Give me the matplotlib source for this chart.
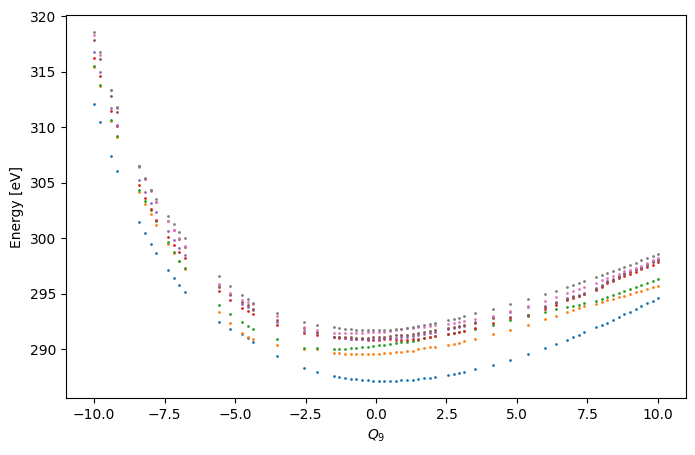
import matplotlib
matplotlib.use("Agg")
import matplotlib.pyplot as plt

q9 = [-10.0, -9.79, -9.4, -9.18, -8.4, -8.19, -7.97, -7.8, -7.37, -7.16, -6.98, -6.77,
      -5.56, -5.17, -4.74, -4.53, -4.35, -3.53, -2.54, -2.11,
      -1.5, -1.3, -1.1, -0.9, -0.7, -0.5, -0.3, -0.1, 0.1, 0.3, 0.5, 0.7, 0.9, 1.1, 1.3, 1.5, 1.7, 1.9, 2.1,
      2.54, 2.75, 2.93, 3.14, 3.53,
      4.14, 4.74, 5.4, 5.99, 6.4, 6.78, 6.99, 7.2, 7.38,
      7.8, 8.01, 8.19, 8.4, 8.62, 8.8, 9.01, 9.23, 9.4, 9.62, 9.84, 10.0]

state0 = [312.09, 310.48, 307.44, 306.09, 301.44, 300.45, 299.47, 298.66, 297.14, 296.42, 295.80, 295.17,
          292.48, 291.85, 291.41, 291.05, 290.69, 289.44, 288.36, 288.00,
          287.64, 287.56, 287.47, 287.38, 287.38, 287.29, 287.29, 287.20, 287.20, 287.20, 287.20, 287.20, 287.29, 287.29, 287.29, 287.38, 287.47, 287.47, 287.56,
          287.73, 287.82, 287.91, 288.00, 288.27,
          288.63, 289.07, 289.61, 290.15, 290.51, 290.87, 291.13, 291.31, 291.58,
          292.03, 292.21, 292.39, 292.66, 292.93, 293.20, 293.37, 293.64, 293.91, 294.18, 294.36, 294.63]

state1 = [315.42, 313.72, 310.58, 309.15, 304.21, 303.14, 302.15, 301.17, 299.47, 298.72, 297.92, 297.23,
          293.38, 292.39, 291.50, 291.14, 290.96, 290.42, 290.06, 290.00,
          289.70, 289.70, 289.61, 289.61, 289.61, 289.61, 289.61, 289.61, 289.61, 289.70, 289.70, 289.79, 289.79, 289.88, 289.88, 290.06, 290.15, 290.24, 290.24,
          290.42, 290.51, 290.60, 290.78, 290.96,
          291.40, 291.76, 292.21, 292.75, 293.01, 293.37, 293.55, 293.73, 293.91,
          294.09, 294.27, 294.42, 294.54, 294.69, 294.84, 294.99, 295.14, 295.28, 295.43, 295.58, 295.70]

state2 = [315.50, 313.80, 310.66, 309.23, 304.39, 303.37, 302.58, 301.55, 299.65, 298.80, 297.98, 297.32,
          294.00, 293.20, 292.48, 292.12, 291.85, 290.96, 290.15, 290.10,
          290.06, 290.06, 290.06, 290.15, 290.15, 290.24, 290.24, 290.33, 290.42, 290.42, 290.51, 290.60, 290.69, 290.69, 290.78, 290.87, 291.02, 291.10, 291.20,
          291.38, 291.47, 291.55, 291.65, 291.85,
          292.21, 292.66, 293.01, 293.37, 293.64, 293.82, 293.91, 294.00, 294.18,
          294.36, 294.54, 294.72, 294.90, 295.07, 295.25, 295.43, 295.61, 295.79, 295.97, 296.15, 296.33]

state3 = [316.21, 314.60, 311.47, 310.15, 304.84, 303.68, 302.62, 301.62, 300.09, 299.38, 298.75, 298.21,
          295.26, 294.45, 293.74, 293.47, 293.20, 292.21, 291.50, 291.32,
          291.08, 291.05, 291.00, 290.96, 290.93, 290.90, 290.87, 290.87, 290.87, 290.96, 290.96, 290.87, 290.87, 290.87, 290.96, 290.96, 291.05, 291.14, 291.23,
          291.41, 291.50, 291.58, 291.67, 291.94,
          292.39, 292.84, 293.10, 293.64, 294.00, 294.45, 294.63, 294.81, 294.99,
          295.34, 295.61, 295.97, 296.15, 296.42, 296.60, 296.78, 296.96, 297.22, 297.40, 297.58, 297.85]

state4 = [316.75, 314.96, 311.73, 310.21, 305.29, 304.21, 303.23, 302.33, 300.63, 299.83, 299.11, 298.48,
          295.76, 294.90, 294.09, 293.83, 293.55, 292.48, 291.67, 291.45,
          291.10, 291.08, 291.05, 290.96, 290.96, 290.96, 290.96, 290.96, 290.96, 290.99, 291.05, 291.05, 291.10, 291.14, 291.23, 291.32, 291.41, 291.50, 291.58,
          291.85, 291.95, 292.03, 292.12, 292.48,
          292.93, 293.37, 293.82, 293.91, 294.27, 294.63, 294.81, 294.90, 295.07,
          295.52, 295.79, 296.15, 296.33, 296.60, 296.87, 297.05, 297.22, 297.40, 297.67, 297.94, 298.12]

state5 = [317.82, 316.12, 312.81, 311.38, 306.48, 305.33, 304.35, 303.28, 301.55, 300.75, 299.90, 299.20,
          295.61, 294.95, 294.27, 294.00, 293.65, 292.66, 291.92, 291.59,
          291.14, 291.14, 291.08, 291.08, 291.05, 291.05, 291.05, 291.14, 291.14, 291.14, 291.23, 291.32, 291.32, 291.32, 291.41, 291.50, 291.58, 291.67, 291.76,
          291.94, 292.03, 292.12, 292.21, 292.39,
          292.84, 292.93, 293.10, 293.82, 294.18, 294.57, 294.75, 294.85, 295.02,
          295.47, 295.74, 296.10, 296.28, 296.55, 296.82, 297.00, 297.17, 297.35, 297.62, 297.89, 298.07]

state6 = [318.27, 316.48, 313.32, 311.75, 306.45, 305.35, 304.30, 303.32, 301.58, 300.78, 300.00, 299.34,
          295.88, 295.08, 294.45, 294.27, 294.12, 293.02, 291.98, 291.76,
          291.50, 291.50, 291.50, 291.50, 291.50, 291.50, 291.58, 291.58, 291.58, 291.58, 291.67, 291.76, 291.85, 291.94, 291.94, 292.03, 292.03, 292.12, 292.21,
          292.30, 292.39, 292.48, 292.57, 292.75,
          293.02, 293.46, 293.91, 294.36, 294.72, 295.08, 295.25, 295.43, 295.61,
          295.97, 296.24, 296.42, 296.60, 296.78, 297.05, 297.13, 297.31, 297.49, 297.76, 298.03, 298.21]

state7 = [318.54, 316.75, 313.38, 311.82, 306.51, 305.40, 304.39, 303.59, 301.97, 301.25, 300.54, 300.00,
          296.60, 295.70, 294.90, 294.54, 294.18, 293.31, 292.48, 292.21,
          292.03, 291.94, 291.85, 291.85, 291.76, 291.76, 291.76, 291.76, 291.76, 291.76, 291.76, 291.85, 291.85, 291.94, 292.03, 292.12, 292.21, 292.30, 292.39,
          292.66, 292.75, 292.84, 293.02, 293.29,
          293.64, 294.09, 294.54, 294.99, 295.25, 295.61, 295.79, 295.97, 296.15,
          296.51, 296.69, 296.87, 297.05, 297.22, 297.40, 297.58, 297.76, 298.03, 298.21, 298.39, 298.57]

states = [state0, state1, state2, state3, state4, state5, state6, state7]

fig = plt.figure(figsize=(6.95, 4.55), dpi=100)
ax = fig.add_axes([66 / 695, 1 - 398 / 455, (686 - 66) / 695, (398 - 15) / 455])
for s in states:
    ax.scatter(q9, s, s=1)
ax.set_xlabel("$Q_9$")
ax.set_ylabel("Energy [eV]")
fig.savefig("out.png", dpi=100)
